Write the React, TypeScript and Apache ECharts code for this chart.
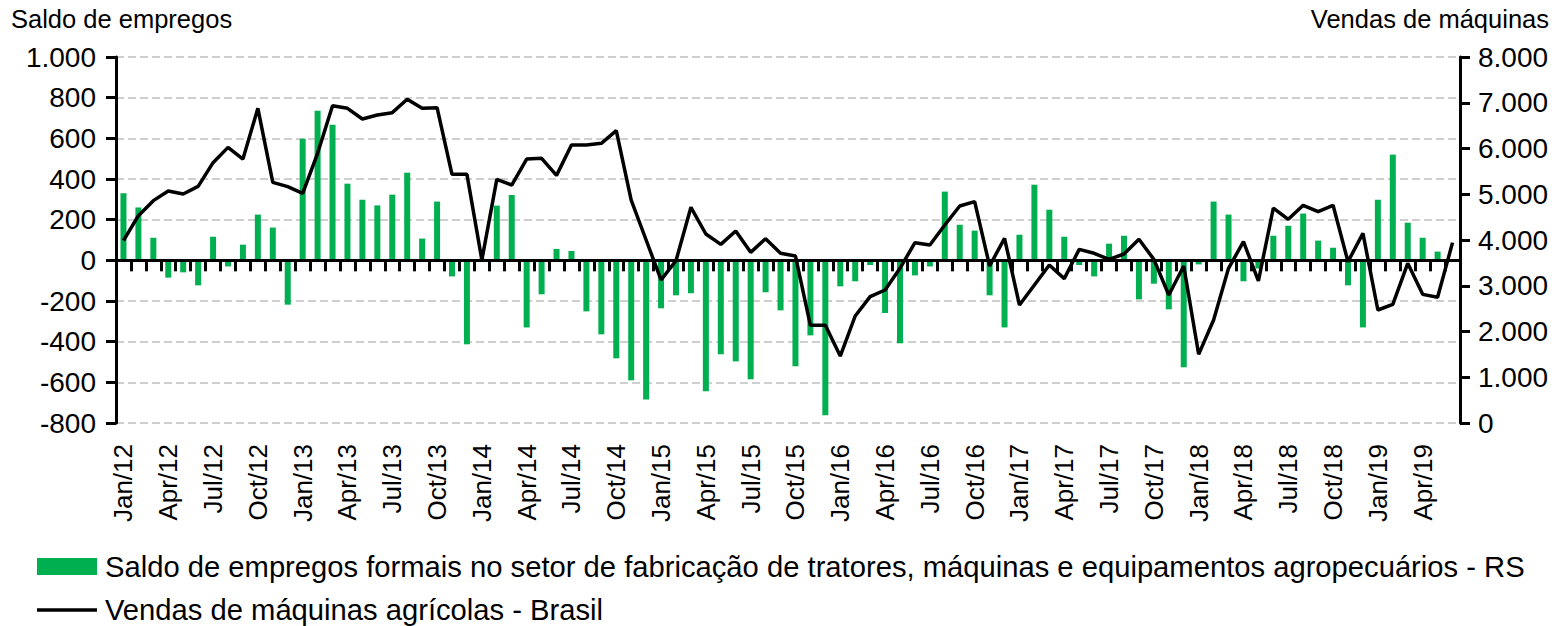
import React, { useEffect, useRef } from 'react';
import * as echarts from 'echarts';

const MONTHS = ['Jan', 'Feb', 'Mar', 'Apr', 'May', 'Jun', 'Jul', 'Aug', 'Sep', 'Oct', 'Nov', 'Dec'];
const YEARS = ['12', '13', '14', '15', '16', '17', '18', '19'];
const categories: string[] = YEARS.flatMap((y) => MONTHS.map((m) => `${m}/${y}`)).slice(0, 90);

const BAR_NAME =
  'Saldo de empregos formais no setor de fabricação de tratores, máquinas e equipamentos agropecuários - RS';
const LINE_NAME = 'Vendas de máquinas agrícolas - Brasil';

// Saldo de empregos (left axis)
const saldo2012 = [330, 260, 111, -85, -59, -123, 116, -30, 77, 225, 161, -218];
const saldo2013 = [598, 736, 667, 377, 298, 270, 323, 431, 107, 289, -79, -413];
const saldo2014 = [8, 269, 321, -330, -167, 56, 46, -251, -364, -482, -590, -684];
const saldo2015 = [-236, -172, -162, -644, -462, -497, -585, -157, -246, -521, -369, -762];
const saldo2016 = [-128, -103, -23, -259, -408, -74, -30, 338, 175, 146, -172, -330];
const saldo2017 = [126, 372, 249, 116, -23, -79, 82, 121, -192, -115, -241, -526];
const saldo2018 = [-20, 289, 225, -103, -40, 121, 170, 230, 97, 62, -123, -330];
const saldo2019 = [298, 520, 185, 111, 43, 5];

// Vendas de máquinas (right axis)
const vendas2012 = [3985, 4532, 4860, 5071, 5005, 5173, 5690, 6025, 5770, 6878, 5260, 5166];
const vendas2013 = [5020, 5894, 6936, 6878, 6645, 6732, 6783, 7075, 6878, 6892, 5435, 5435];
const vendas2014 = [3563, 5326, 5202, 5770, 5785, 5413, 6077, 6077, 6113, 6390, 4874, 4000];
const vendas2015 = [3126, 3548, 4714, 4131, 3905, 4197, 3730, 4029, 3709, 3650, 2135, 2135];
const vendas2016 = [1464, 2339, 2761, 2907, 3381, 3942, 3891, 4328, 4743, 4838, 3432, 4036];
const vendas2017 = [2579, 3016, 3454, 3155, 3796, 3709, 3577, 3694, 4015, 3577, 2798, 3432];
const vendas2018 = [1501, 2251, 3381, 3964, 3104, 4699, 4452, 4758, 4619, 4758, 3526, 4146];
const vendas2019 = [2470, 2594, 3490, 2812, 2747, 3942];

const saldo = [
  ...saldo2012, ...saldo2013, ...saldo2014, ...saldo2015,
  ...saldo2016, ...saldo2017, ...saldo2018, ...saldo2019,
];
const vendas = [
  ...vendas2012, ...vendas2013, ...vendas2014, ...vendas2015,
  ...vendas2016, ...vendas2017, ...vendas2018, ...vendas2019,
];

const FONT = '"Liberation Sans", Arial, Helvetica, sans-serif';

const fmt = (v: number) => {
  const s = Math.abs(v).toString().replace(/\B(?=(\d{3})+(?!\d))/g, '.');
  return (v < 0 ? '-' : '') + s;
};

export default function App() {
  const ref = useRef<HTMLDivElement>(null);

  useEffect(() => {
    document.body.style.margin = '0';
    if (!ref.current) return;
    const chart = echarts.init(ref.current, undefined, { renderer: 'svg' });
    const titleStyle = { fontSize: 25.5, fontWeight: 'normal' as const, color: '#000', fontFamily: FONT };
    const legendText = { fontSize: 29.2, color: '#000', fontFamily: FONT, lineHeight: 30, padding: [0, 0, 0, 3] };
    chart.setOption({
      animation: false,
      textStyle: { fontFamily: FONT },
      title: [
        { text: 'Saldo de empregos', left: 11, top: 6, padding: 0, textStyle: titleStyle },
        { text: 'Vendas de máquinas', right: 5, top: 6, padding: 0, textStyle: titleStyle },
      ],
      legend: [
        {
          data: [{ name: BAR_NAME, icon: 'rect' }],
          left: 37,
          top: 551.5,
          padding: 0,
          itemWidth: 60,
          itemHeight: 17,
          textStyle: legendText,
        },
        {
          data: [{ name: LINE_NAME, icon: 'path://M0,0H60V3.5H0Z' }],
          left: 37,
          top: 595,
          padding: 0,
          itemWidth: 60,
          itemHeight: 17,
          textStyle: legendText,
        },
      ],
      grid: { left: 116, right: 94, top: 57, bottom: 203, containLabel: false },
      xAxis: [
        {
          type: 'category',
          data: categories,
          position: 'bottom',
          axisLine: { show: false, onZero: false },
          axisTick: { show: false },
          axisLabel: { rotate: 90, interval: 2, fontSize: 26, color: '#000', margin: 21, fontFamily: FONT },
          splitLine: { show: false },
        },
        {
          type: 'category',
          data: categories,
          position: 'top',
          z: 3,
          axisLine: { show: true, onZero: true, onZeroAxisIndex: 0, lineStyle: { color: '#000', width: 3 } },
          axisTick: { show: true, inside: true, interval: 0, length: 11, lineStyle: { color: '#000', width: 3 } },
          axisLabel: { show: false },
          splitLine: { show: false },
        },
      ],
      yAxis: [
        {
          type: 'value',
          min: -800,
          max: 1000,
          interval: 200,
          position: 'left',
          axisLine: { show: true, lineStyle: { color: '#000', width: 3 } },
          axisTick: { show: true, length: 10, lineStyle: { color: '#000', width: 3 } },
          axisLabel: { formatter: fmt, fontSize: 28, color: '#000', margin: 20, fontFamily: FONT },
          splitLine: { show: true, lineStyle: { type: [8, 4], color: '#c0c0c0', width: 1.5 } },
        },
        {
          type: 'value',
          min: 0,
          max: 8000,
          interval: 1000,
          position: 'right',
          axisLine: { show: true, lineStyle: { color: '#000', width: 3 } },
          axisTick: { show: true, length: 10, lineStyle: { color: '#000', width: 3 } },
          axisLabel: { formatter: fmt, fontSize: 28, color: '#000', margin: 18, fontFamily: FONT },
          splitLine: { show: false },
        },
      ],
      series: [
        {
          name: BAR_NAME,
          type: 'bar',
          data: saldo,
          xAxisIndex: 0,
          yAxisIndex: 0,
          barWidth: 6,
          itemStyle: { color: '#00b050' },
        },
        {
          name: LINE_NAME,
          type: 'line',
          data: vendas,
          xAxisIndex: 0,
          yAxisIndex: 1,
          symbol: 'none',
          z: 4,
          lineStyle: { color: '#000', width: 3.5 },
          itemStyle: { color: '#000' },
        },
      ],
    });
    return () => chart.dispose();
  }, []);

  return <div ref={ref} style={{ width: 1554, height: 626 }} />;
}
